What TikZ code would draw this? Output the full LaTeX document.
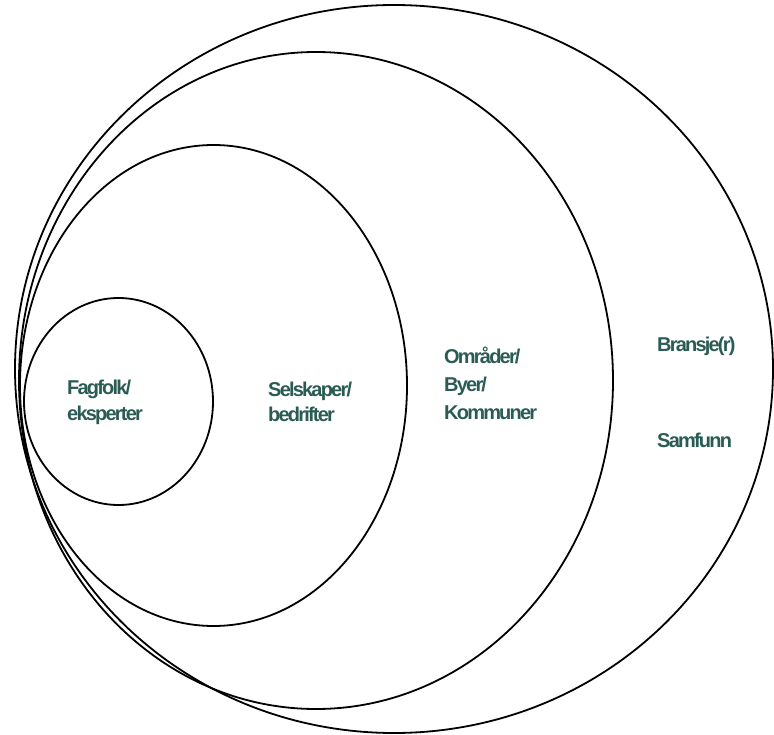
\documentclass[tikz,border=0pt]{standalone}
\usepackage{fontspec}
\setmainfont{Liberation Sans}[LetterSpace=-9]
\definecolor{labteal}{HTML}{2A5B55}
\begin{document}
\begin{tikzpicture}[x=1pt,y=-1pt,
  ring/.style={draw=black,line width=1.8pt},
  lab/.style={anchor=base west,inner sep=0pt,align=left,text=labteal,
    font=\fontsize{20}{25}\selectfont\bfseries}]
\useasboundingbox (0,0) rectangle (774,735);
\draw[ring] (394,369) ellipse [x radius=379pt, y radius=364pt];
\draw[ring] (316,380.5) ellipse [x radius=297pt, y radius=328.5pt];
\draw[ring] (213.5,385.5) ellipse [x radius=193.5pt, y radius=240.5pt];
\draw[ring] (118.5,401.5) ellipse [x radius=94.5pt, y radius=103.5pt];
\node[lab] (fag) at (67,420) {Fagfolk/\\eksperter};
\node[lab] (sel) at (268,421) {Selskaper/\\bedrifter};
\node[lab,font=\fontsize{20}{28}\selectfont\bfseries] (omr) at (444,419) {Områder/\\Byer/\\Kommuner};
\node[lab] (bra) at (657,352) {Bransje(r)};
\node[lab] (sam) at (657,447) {Samfunn};
\end{tikzpicture}
\end{document}
